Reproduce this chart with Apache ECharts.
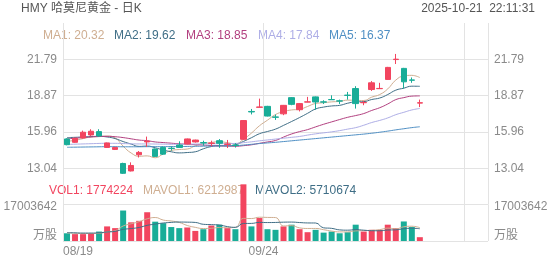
<!DOCTYPE html>
<html><head><meta charset="utf-8">
<script src="https://cdn.jsdelivr.net/npm/echarts@6/dist/echarts.min.js"></script>
<style>html,body{margin:0;padding:0;background:#fff}#c{width:552px;height:265px}</style>
</head><body><div id="c"></div>
<script>
const dates = ['08/19','08/20','08/21','08/22','08/25','08/26','08/27','08/28','08/29','09/02','09/03','09/04','09/05','09/08','09/09','09/10','09/11','09/12','09/15','09/16','09/17','09/18','09/19','09/22','09/23','09/24','09/25','09/26','09/29','09/30','10/01','10/02','10/03','10/06','10/07','10/08','10/09','10/10','10/13','10/14','10/15','10/16','10/17','10/20','10/21'];
const opens  = [15.39,15.12,15.47,15.71,15.98,14.71,14.55,13.42,12.82,14.12,15.15,14.58,14.71,14.65,14.90,14.98,15.15,15.10,15.03,15.25,14.95,14.90,15.36,17.60,17.93,18.01,17.16,17.41,18.71,17.74,18.35,18.77,18.37,18.56,18.45,18.91,19.44,18.30,19.36,19.43,20.17,21.77,21.06,20.13,18.27];
const closes = [14.93,15.44,15.93,16.01,15.63,15.07,14.71,12.63,13.26,14.31,15.22,13.99,14.17,14.62,14.71,15.39,15.30,15.07,15.06,15.04,14.98,14.87,16.87,17.56,17.96,17.23,17.13,18.09,18.17,18.23,18.37,18.36,18.35,18.54,18.43,18.89,18.23,18.32,19.90,19.45,21.14,21.80,19.98,20.11,18.30];
const lows   = [14.88,15.08,15.42,15.61,15.55,14.68,14.50,12.58,12.78,13.90,14.75,13.95,14.10,14.45,14.68,14.95,15.10,14.85,14.80,14.68,14.66,14.70,15.33,17.36,17.92,17.20,16.92,17.30,18.10,17.60,18.34,17.74,18.20,18.53,18.20,18.55,17.83,18.10,19.25,19.42,20.15,21.41,19.44,19.90,17.95];
const highs  = [15.45,15.48,16.06,16.17,16.17,15.10,14.74,13.48,13.51,14.42,15.58,14.62,14.78,14.80,15.20,15.42,15.33,15.25,15.25,15.38,15.31,15.05,16.90,17.80,18.63,18.05,17.35,18.12,18.75,18.28,18.77,18.80,18.50,18.90,18.55,19.17,19.63,18.45,20.04,19.90,21.18,22.22,21.10,20.33,18.55];
const volumes = [3600000,3200000,3200000,3600000,4400000,6800000,6000000,14200000,8700000,9400000,13400000,9000000,8300000,6500000,6000000,6300000,4700000,5500000,7200000,7600000,6000000,5500000,26400000,6800000,10700000,5500000,5200000,6800000,7600000,5500000,4100000,5200000,3900000,4400000,3600000,4100000,7600000,4400000,5200000,5200000,7600000,6000000,9100000,6500000,1774224];
const ma1 = [15.20,15.28,15.42,15.55,15.59,15.62,15.47,14.81,14.26,14.00,14.03,13.88,14.19,14.46,14.54,14.58,14.84,15.02,15.11,15.17,15.09,15.00,15.36,15.86,16.45,16.90,17.35,17.59,17.72,17.77,18.00,18.24,18.30,18.37,18.41,18.51,18.49,18.48,18.75,18.96,19.41,20.12,20.45,20.50,20.32];
const ma2 = [15.50,15.52,15.55,15.58,15.60,15.55,15.42,15.18,14.98,14.79,14.82,14.68,14.50,14.36,14.27,14.30,14.36,14.60,14.78,14.86,14.83,14.92,15.19,15.49,15.81,15.99,16.18,16.48,16.79,17.11,17.45,17.80,17.95,18.04,18.09,18.26,18.37,18.39,18.56,18.68,18.96,19.31,19.47,19.63,19.62];
const ma3 = [15.40,15.45,15.50,15.55,15.58,15.60,15.57,15.50,15.40,15.30,15.25,15.15,15.10,15.05,15.00,14.97,14.93,14.90,14.86,14.82,14.83,14.80,14.85,14.92,15.04,15.15,15.27,15.54,15.79,15.98,16.14,16.36,16.57,16.76,16.95,17.13,17.27,17.43,17.68,17.90,18.20,18.55,18.71,18.83,18.85];
const ma4 = [14.95,14.97,14.99,15.01,15.03,15.04,15.04,15.02,15.00,14.99,14.99,14.98,14.97,14.96,14.96,14.97,14.98,14.99,15.00,15.01,15.02,15.03,15.09,15.16,15.24,15.31,15.38,15.45,15.52,15.59,15.70,15.80,15.88,15.96,16.06,16.18,16.30,16.49,16.71,16.88,17.08,17.34,17.53,17.72,17.84];
const ma5 = [14.72,14.73,14.74,14.75,14.76,14.77,14.77,14.76,14.76,14.76,14.77,14.77,14.77,14.78,14.78,14.79,14.80,14.81,14.82,14.83,14.84,14.85,14.90,14.96,15.02,15.07,15.12,15.18,15.24,15.30,15.36,15.42,15.48,15.54,15.60,15.66,15.72,15.78,15.85,15.93,16.02,16.12,16.21,16.30,16.37];
const mavol1 = [3800000,3600000,3500000,3500000,3600000,4240000,4800000,7000000,8020000,9020000,10340000,10940000,9760000,9320000,8640000,7220000,6360000,5800000,5940000,6260000,6200000,6360000,10540000,10460000,11080000,10980000,10920000,7000000,7160000,6120000,5840000,5840000,5260000,4620000,4240000,4240000,4720000,4820000,4980000,5300000,6000000,5680000,6620000,6880000,6212987];
const mavol2 = [3900000,3800000,3700000,3700000,3800000,4200000,4500000,5400000,5800000,6310000,7290000,7870000,8380000,8670000,8830000,8780000,8650000,7780000,7630000,7450000,6710000,6360000,8170000,8200000,8670000,8590000,8640000,8770000,8810000,8600000,8410000,8380000,6130000,5890000,5180000,5040000,5280000,5040000,4800000,4770000,5120000,5200000,5720000,5930000,5710674];
const priceTickBase = 10.1233, priceTickStep = 2.9167;
const volTop = 17003642;
const xLabels = {0:'08/19', 25:'09/24'};
const slotCount = 53;

const UP = '#f2455f', DOWN = '#19ad98';
const C_MA = ['#cfae91','#3f6e86','#b23f7f','#aeaee6','#4f8fc4'];
const FONT = '"Liberation Sans", Arial, "Noto Sans CJK SC", sans-serif';
const cats = [];
for (let i = 0; i < slotCount; i++) cats.push(i < dates.length ? dates[i] : '');
const candle = dates.map((d, i) => [opens[i], closes[i], lows[i], highs[i]]);
const volData = volumes.map((v, i) => ({value: v, itemStyle: {color: closes[i] >= opens[i] ? UP : DOWN}}));
const last = a => a[a.length - 1];

const chart = echarts.init(document.getElementById('c'), null, {renderer: 'canvas'});
const gridLine = {show: true, lineStyle: {color: '#e3e3e3', width: 1}};
const yLabelStyle = {color: '#8a8a8a', fontSize: 12, fontFamily: FONT};
function priceAxis(pos) {
  return {type: 'value', gridIndex: 0, position: pos, min: priceTickBase, max: priceTickBase + 5 * priceTickStep,
    interval: priceTickStep, scale: true,
    axisLine: {show: false}, axisTick: {show: false},
    splitLine: pos === 'left' ? Object.assign({showMinLine: false, showMaxLine: false}, gridLine) : {show: false},
    axisLabel: Object.assign({showMinLabel: false, showMaxLabel: false, margin: 6, formatter: v => v.toFixed(2)}, yLabelStyle)};
}
function volAxis(pos) {
  return {type: 'value', gridIndex: 1, position: pos, min: 0, max: volTop, interval: volTop,
    axisLine: {show: false}, axisTick: {show: false},
    splitLine: pos === 'left' ? gridLine : {show: false},
    axisLabel: Object.assign({margin: 6,
      formatter: v => v > 0 ? '{a|' + volTop + '}' : '{b|万股}',
      rich: {a: {padding: [5, 0, 0, 0], color: '#8a8a8a', fontSize: 12, fontFamily: FONT},
             b: {padding: [0, 0, 10, 0], color: '#8a8a8a', fontSize: 12, fontFamily: FONT}}}, yLabelStyle)};
}
function lineSeries(data, color, xi, yi) {
  return {type: 'line', data: data, xAxisIndex: xi, yAxisIndex: yi, smooth: true, symbol: 'none',
    lineStyle: {width: 1, color: color}, silent: true, z: 3};
}
const txt = (x, y, s, color, align) => ({type: 'text', x: x, y: y,
  style: {text: s, fill: color, font: '12px ' + FONT, textAlign: align || 'left', textVerticalAlign: 'middle'}});

chart.setOption({
  animation: false,
  backgroundColor: '#fff',
  grid: [
    {left: 63, right: 64, top: 23, height: 181.5},
    {left: 63, right: 64, top: 204.5, height: 36.5}
  ],
  xAxis: [
    {type: 'category', gridIndex: 0, data: cats, boundaryGap: true, show: false, position: 'top'},
    {type: 'value', gridIndex: 0, position: 'bottom', min: 0, max: slotCount, interval: 25, axisLine: {show: false}, axisTick: {show: false}, axisLabel: {show: false}, splitLine: gridLine},
    {type: 'category', gridIndex: 1, data: cats, boundaryGap: true, show: false, position: 'top'},
    {type: 'value', gridIndex: 1, position: 'bottom', min: 0, max: slotCount, interval: 25, axisLine: {show: false}, axisTick: {show: false}, splitLine: gridLine,
      axisLabel: {color: '#8a8a8a', fontSize: 12, fontFamily: FONT, margin: 5, alignMinLabel: 'left', formatter: v => xLabels[v] || ''}}
  ],
  yAxis: [priceAxis('left'), priceAxis('right'), volAxis('left'), volAxis('right')],
  series: [
    {type: 'candlestick', xAxisIndex: 0, yAxisIndex: 0, data: candle, barWidth: 6,
      itemStyle: {color: UP, color0: DOWN, borderColor: UP, borderColor0: DOWN, borderWidth: 1}, z: 4},
    lineSeries(ma1, C_MA[0], 0, 0), lineSeries(ma2, C_MA[1], 0, 0), lineSeries(ma3, C_MA[2], 0, 0),
    lineSeries(ma4, C_MA[3], 0, 0), lineSeries(ma5, C_MA[4], 0, 0),
    {type: 'bar', xAxisIndex: 2, yAxisIndex: 2, data: volData, barWidth: 6, clip: false, z: 2},
    lineSeries(mavol1, C_MA[0], 2, 2), lineSeries(mavol2, C_MA[1], 2, 2)
  ],
  graphic: [
    txt(21, 9, 'HMY 哈莫尼黄金 - 日K', '#555'),
    txt(535, 9, '2025-10-21  22:11:31', '#555', 'right'),
    txt(43, 36, 'MA1: ' + last(ma1).toFixed(2), C_MA[0]),
    txt(114, 36, 'MA2: ' + last(ma2).toFixed(2), C_MA[1]),
    txt(186, 36, 'MA3: ' + last(ma3).toFixed(2), C_MA[2]),
    txt(258, 36, 'MA4: ' + last(ma4).toFixed(2), C_MA[3]),
    txt(329, 36, 'MA5: ' + last(ma5).toFixed(2), C_MA[4]),
    txt(49, 191, 'VOL1: ' + last(volumes), UP),
    txt(143, 191, 'MAVOL1: ' + last(mavol1), C_MA[0]),
    txt(255, 191, 'MAVOL2: ' + last(mavol2), C_MA[1])
  ]
});
</script></body></html>
